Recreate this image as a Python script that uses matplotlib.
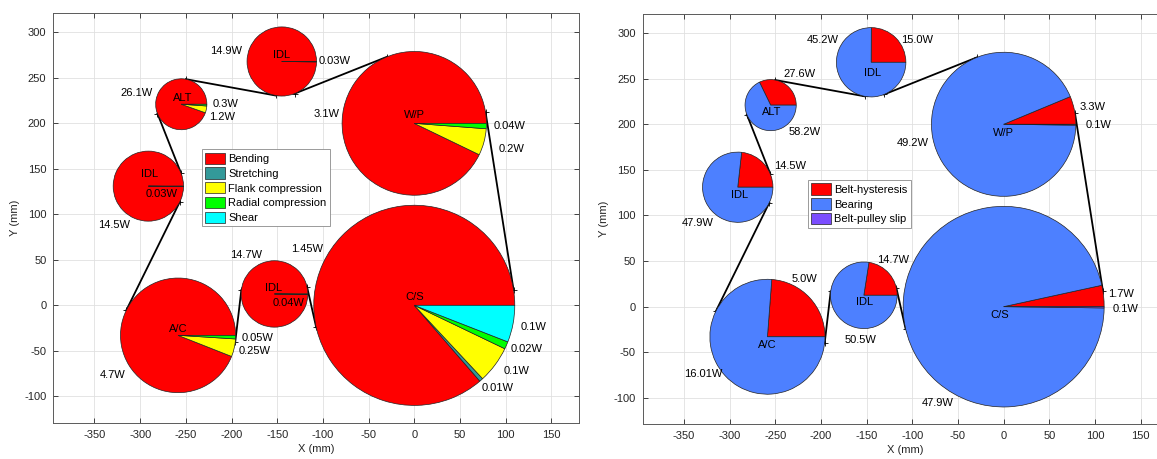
import numpy as np
import matplotlib
matplotlib.use("Agg")
import matplotlib.pyplot as plt
from matplotlib.patches import Patch

plt.rcParams['font.family'] = ['Liberation Sans', 'DejaVu Sans']
plt.rcParams['font.size'] = 8
plt.rcParams['axes.unicode_minus'] = False

# ---- Drive layout (mm) -------------------------------------------------
pulley_names = ["C/S", "W/P", "IDL", "ALT", "IDL", "A/C", "IDL"]
pulley_x = [0, 0, -145, -255, -291, -258.5, -153]
pulley_y = [0, 200, 268, 221, 131, -33, 12.5]
pulley_r = [110, 79, 38, 28, 38.5, 63, 36.5]
# +1: belt rib side wraps the pulley, -1: backside idler
wrap_side = [1, 1, -1, 1, -1, 1, -1]
belt_route = [0, 1, 2, 3, 4, 5, 6, 0]

# ---- Belt hysteresis loss by mechanism (W) ------------------------------
hyst_types = ["Bending", "Stretching", "Flank compression",
              "Radial compression", "Shear"]
bending = [1.45, 3.1, 14.9, 26.1, 14.5, 4.7, 14.7]
stretching = [0.01, 0, 0, 0, 0, 0, 0]
flank_comp = [0.1, 0.2, 0, 1.2, 0, 0.25, 0]
radial_comp = [0.02, 0.04, 0.03, 0.3, 0.03, 0.05, 0.04]
shear = [0.1, 0, 0, 0, 0, 0, 0]
hyst_colors = ["#ff0000", "#339999", "#ffff00", "#00ff00", "#00ffff"]

# ---- Loss by source (W) -------------------------------------------------
source_types = ["Belt-hysteresis", "Bearing", "Belt-pulley slip"]
belt_hyst = [1.7, 3.3, 15.0, 27.6, 14.5, 5.0, 14.7]
bearing = [47.9, 49.2, 45.2, 58.2, 47.9, 16.01, 50.5]
slip = [0.1, 0.1, 0, 0, 0, 0, 0]
source_colors = ["#ff0000", "#4d80ff", "#7b4dff"]

# ---- Label placement (offsets from pulley centre, mm) ------------------
# (pulley, series, dx, dy, ha)
left_label_pos = [
    (0, 0, -117, 62, "center"), (0, 1, 73.6, -90.7, "left"),
    (0, 2, 98, -71.7, "left"), (0, 3, 106, -47.7, "left"),
    (0, 4, 116.5, -23.3, "left"),
    (1, 0, -82, 10, "right"), (1, 2, 92, -28.6, "left"),
    (1, 3, 87, -3, "left"),
    (2, 0, -61.4, 11, "center"), (2, 3, 40, 0, "left"),
    (3, 0, -48.5, 12, "center"), (3, 2, 30.4, -14.4, "left"),
    (3, 3, 34.4, 0.2, "left"),
    (4, 0, -38, -42.4, "center"), (4, 3, 15, -8.7, "center"),
    (5, 0, -71.5, -43.1, "center"), (5, 2, 66.5, -17.6, "left"),
    (5, 3, 69.1, -2.7, "left"),
    (6, 0, -31, 42.5, "center"), (6, 3, 15.4, -9.6, "center"),
]
left_name_pos = [(0, 9.5), (0, 9.5), (-0.3, 7.5), (2, 7), (1, 13.3),
                 (0.5, 7.5), (-0.8, 6.8)]

right_label_pos = [
    (0, 0, 129, 13.9, "center"), (0, 2, 133.2, -2.6, "center"),
    (0, 1, -72.7, -105.8, "center"),
    (1, 0, 96.9, 18.5, "center"), (1, 2, 104.2, -1.1, "center"),
    (1, 1, -100, -20.7, "center"),
    (2, 0, 50.1, 24.7, "center"), (2, 1, -52.8, 24, "center"),
    (3, 0, 31.7, 34.6, "center"), (3, 1, 37, -29.7, "center"),
    (4, 0, 56.8, 22.8, "center"), (4, 1, -44, -39, "center"),
    (5, 0, 40.5, 63.3, "center"), (5, 1, -70.5, -41.1, "center"),
    (6, 0, 32, 38.6, "center"), (6, 1, -3.6, -49, "center"),
]
right_name_pos = [(-4.8, -9.1), (0, -10), (1.7, -11.3), (0.7, -7.2),
                  (1.5, -8.1), (-0.5, -8.6), (0.4, -7.8)]


def fmt_watts(v):
    if abs(round(v, 1) - v) < 1e-9:
        return f"{v:.1f}W" if v >= 1 and v == int(v) else f"{v:g}W"
    return f"{v:g}W"


def belt_segment(i, j):
    c1 = np.array([pulley_x[i], pulley_y[i]], float)
    c2 = np.array([pulley_x[j], pulley_y[j]], float)
    r1 = wrap_side[i] * pulley_r[i]
    r2 = wrap_side[j] * pulley_r[j]
    d = c2 - c1
    dist = np.hypot(*d)
    phi = np.arctan2(d[1], d[0]) - np.arccos((r1 - r2) / dist)
    n = np.array([np.cos(phi), np.sin(phi)])
    return c1 + r1 * n, c2 + r2 * n


def draw_panel(ax, series, colors, label_pos, name_pos):
    # belt spans
    for a, b in zip(belt_route[:-1], belt_route[1:]):
        p, q = belt_segment(a, b)
        ax.plot([p[0], q[0]], [p[1], q[1]], color="black", lw=1.3,
                marker="+", ms=5, mew=0.6, zorder=2)
    # pulleys as pies
    for k in range(len(pulley_names)):
        vals = [s[k] for s in series]
        keep = [m for m, v in enumerate(vals) if v > 0]
        ax.pie([vals[m] for m in keep], colors=[colors[m] for m in keep],
               center=(pulley_x[k], pulley_y[k]), radius=pulley_r[k],
               startangle=0, counterclock=True, frame=True,
               wedgeprops=dict(edgecolor="#222222", linewidth=0.5,
                               zorder=3))
        nx, ny = name_pos[k]
        ax.text(pulley_x[k] + nx, pulley_y[k] + ny, pulley_names[k],
                ha="center", va="center", fontsize=8, zorder=5)
    for k, m, dx, dy, ha in label_pos:
        ax.text(pulley_x[k] + dx, pulley_y[k] + dy, fmt_watts(series[m][k]),
                ha=ha, va="center", fontsize=8, zorder=5)

    ax.set_aspect("auto")
    ax.set_xlim(-395, 180)
    ax.set_ylim(-129, 321)
    ax.set_xticks(np.arange(-350, 151, 50))
    ax.set_yticks(np.arange(-100, 301, 50))
    ax.grid(True, color="#e0e0e0", lw=0.6, zorder=0)
    ax.set_axisbelow(True)
    ax.tick_params(direction="in", length=3.5, width=0.6, top=True,
                   right=True, colors="#262626", labelsize=8, pad=5)
    for sp in ax.spines.values():
        sp.set_color("#5a5a5a")
        sp.set_linewidth(0.7)
    ax.set_xlabel("X (mm)", fontsize=8, color="#262626", labelpad=3)
    ax.set_ylabel("Y (mm)", fontsize=8, color="#262626", labelpad=3)

    return [Patch(facecolor=c, edgecolor="#222222", linewidth=0.5)
            for c in colors]


fig = plt.figure(figsize=(11.57, 4.59), dpi=100)
ax1 = fig.add_axes([0.0461, 0.0791, 0.4541, 0.892])
ax2 = fig.add_axes([0.5555, 0.0756, 0.4541, 0.894])

legend_style = dict(loc="upper left", borderaxespad=0, fontsize=8,
                    handlelength=1.8, handleheight=1.2, handletextpad=0.25,
                    labelspacing=0.3, borderpad=0.3, fancybox=False,
                    edgecolor="#8a8a8a", framealpha=1)

h1 = draw_panel(ax1, [bending, stretching, flank_comp, radial_comp, shear],
                hyst_colors, left_label_pos, left_name_pos)
leg1 = ax1.legend(h1, hyst_types, bbox_to_anchor=(0.283, 0.668),
                  **legend_style)
leg1.get_frame().set_linewidth(0.6)

h2 = draw_panel(ax2, [belt_hyst, bearing, slip], source_colors,
                right_label_pos, right_name_pos)
leg2 = ax2.legend(h2, source_types, bbox_to_anchor=(0.3146, 0.595),
                  **legend_style)
leg2.get_frame().set_linewidth(0.6)

fig.savefig("out.png", dpi=100)
